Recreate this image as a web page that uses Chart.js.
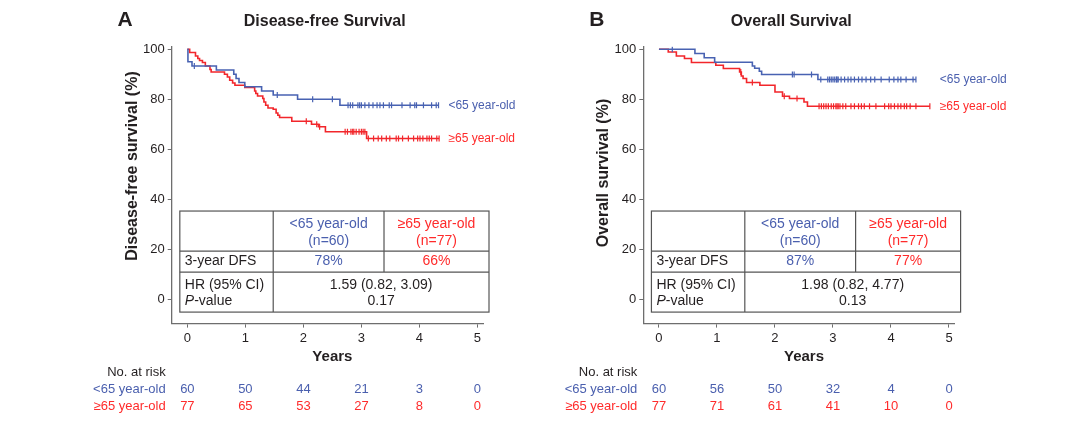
<!DOCTYPE html>
<html><head><meta charset="utf-8">
<script src="https://cdn.jsdelivr.net/npm/chart.js@4.4.1/dist/chart.umd.min.js"></script>
<style>
html,body{margin:0;padding:0;background:#fff;width:1080px;height:425px;overflow:hidden}
canvas{position:absolute;top:0}
#cA{left:0}
#cB{left:540px}
</style></head><body>
<canvas id="cA" width="540" height="425"></canvas>
<canvas id="cB" width="540" height="425"></canvas>
<script>
// ---------- data ----------
const xTicks = [0, 1, 2, 3, 4, 5];
const yTicks = [0, 20, 40, 60, 80, 100];
const groupLabels = ['<65 year-old', '≥65 year-old'];
const groupN = ['(n=60)', '(n=77)'];

// Disease-free survival, <65
const dfsYoungTime = [0, 0.01, 0.08, 0.5, 0.8, 0.84, 0.89, 0.99, 1.28, 1.48, 1.9, 2.63, 4.33];
const dfsYoungSurv = [100, 95, 93.3, 91.7, 90, 88.3, 86.7, 85, 83.3, 81.7, 80, 77.6, 77.6];
const dfsYoungCensor = [0.12, 1.55, 2.16, 2.5, 2.77, 2.81, 2.85, 2.94, 2.97, 3.0, 3.06, 3.13, 3.2, 3.27, 3.32, 3.38, 3.48, 3.52, 3.7, 3.84, 3.92, 3.95, 4.07, 4.21, 4.29, 4.33];
// Disease-free survival, >=65
const dfsOldTime = [0, 0.04, 0.14, 0.18, 0.21, 0.26, 0.31, 0.39, 0.41, 0.64, 0.69, 0.73, 0.78, 0.82, 0.99, 1.16, 1.18, 1.21, 1.3, 1.32, 1.35, 1.39, 1.48, 1.53, 1.56, 1.59, 1.8, 2.14, 2.26, 2.38, 3.09, 4.34];
const dfsOldSurv = [100, 98.7, 97.3, 96.3, 95.5, 94.7, 93.3, 91.9, 90.9, 90, 88.9, 87.6, 86.5, 85.6, 84.7, 83.3, 82.3, 81.3, 80.3, 78.9, 77.6, 76.5, 76, 74.5, 73.6, 72.7, 71.2, 70, 69, 67, 64.3, 64.3];
const dfsOldCensor = [2.05, 2.23, 2.28, 2.72, 2.76, 2.82, 2.85, 2.87, 2.91, 2.96, 3.0, 3.03, 3.06, 3.12, 3.21, 3.29, 3.35, 3.43, 3.49, 3.6, 3.64, 3.71, 3.81, 3.9, 3.97, 4.01, 4.06, 4.13, 4.17, 4.21, 4.3, 4.34];

// Overall survival, <65
const osYoungTime = [0, 0.62, 0.78, 0.96, 1.61, 1.65, 1.73, 1.77, 2.74, 4.43];
const osYoungSurv = [100, 98.3, 96.6, 94.8, 93.3, 92.4, 91.2, 89.9, 87.9, 87.9];
const osYoungCensor = [0.23, 2.3, 2.33, 2.63, 2.79, 2.91, 2.94, 2.97, 3.0, 3.03, 3.06, 3.07, 3.09, 3.14, 3.2, 3.26, 3.31, 3.37, 3.44, 3.5, 3.57, 3.65, 3.72, 3.83, 3.97, 4.05, 4.12, 4.17, 4.26, 4.38, 4.43];
// Overall survival, >=65
const osOldTime = [0, 0.16, 0.3, 0.44, 0.56, 0.98, 1.11, 1.39, 1.42, 1.45, 1.51, 1.74, 2.0, 2.13, 2.25, 2.5, 2.56, 4.67];
const osOldSurv = [100, 98.9, 97.3, 96.3, 94.7, 93.6, 92.3, 90.9, 89.3, 88.3, 86.7, 85.6, 82.9, 81.2, 80.3, 78.9, 77.2, 77.2];
const osOldCensor = [1.41, 1.61, 2.16, 2.38, 2.76, 2.8, 2.84, 2.88, 2.92, 2.97, 3.01, 3.05, 3.07, 3.09, 3.12, 3.17, 3.22, 3.31, 3.37, 3.44, 3.49, 3.54, 3.63, 3.74, 3.89, 3.96, 4.0, 4.06, 4.12, 4.17, 4.23, 4.27, 4.33, 4.43, 4.67];

// Numbers at risk
const dfsRiskYoung = [60, 50, 44, 21, 3, 0];
const dfsRiskOld = [77, 65, 53, 27, 8, 0];
const osRiskYoung = [60, 56, 50, 32, 4, 0];
const osRiskOld = [77, 71, 61, 41, 10, 0];

// Summary tables
const dfsThreeYear = ['78%', '66%'];
const osThreeYear = ['87%', '77%'];
const dfsHR = '1.59 (0.82, 3.09)';
const dfsP = '0.17';
const osHR = '1.98 (0.82, 4.77)';
const osP = '0.13';

// ---------- styling ----------
const FONT = "'Liberation Sans', Arial, Helvetica, sans-serif";
const TXT = '#231f20';
const AXC = '#6e6e6e';
const BLUE_T = '#4a5fae', RED_T = '#ff2b2b';
const BLUE_L = '#4862b2', RED_L = '#f2262b';

function stepAt(times, survs, t) {
  let v = survs[0];
  for (let i = 0; i < times.length; i++) if (times[i] <= t) v = survs[i];
  return v;
}

function txt(ctx, s, x, y, font, color, align) {
  ctx.font = font; ctx.fillStyle = color; ctx.textAlign = align || 'center'; ctx.textBaseline = 'middle';
  ctx.fillText(s, x, y);
}

function makePanel(id, p) {
  const curves = [
    { t: p.youngT, s: p.youngS, c: p.youngC, col: BLUE_L },
    { t: p.oldT, s: p.oldS, c: p.oldC, col: RED_L }
  ];
  const datasets = [];
  curves.forEach(cv => {
    datasets.push({
      type: 'line', data: cv.t.map((x, i) => ({ x: x, y: cv.s[i] })),
      stepped: 'before', borderColor: cv.col, borderWidth: 1.6, pointRadius: 0, fill: false
    });
    datasets.push({
      type: 'line', showLine: false, data: cv.c.map(x => ({ x: x, y: stepAt(cv.t, cv.s, x) })),
      pointStyle: 'line', rotation: 90, pointRadius: 3, borderColor: cv.col, borderWidth: 1.2,
      backgroundColor: cv.col
    });
  });

  const axisCommon = {
    type: 'linear',
    grid: { drawOnChartArea: false, drawTicks: true, tickLength: 4, color: AXC, lineWidth: 1 },
    border: { display: true, color: AXC, width: 1.3 },
    ticks: { color: TXT, font: { family: FONT, size: 13 }, padding: 3, maxRotation: 0, autoSkip: false }
  };

  const overlay = {
    id: 'overlay',
    afterDraw(chart) {
      const ctx = chart.ctx, xs = chart.scales.x, ys = chart.scales.y, ca = chart.chartArea;
      const X = v => xs.getPixelForValue(v), Y = v => ys.getPixelForValue(v);
      ctx.save();
      // panel letter and title
      txt(ctx, p.letter, ca.left - 46.5, 20, 'bold 21px ' + FONT, TXT);
      txt(ctx, p.title, ca.left + p.titleDx, 22, 'bold 16px ' + FONT, TXT);
      // y title
      ctx.save();
      ctx.translate(ca.left - 39.5, p.yTitleY);
      ctx.rotate(-Math.PI / 2);
      txt(ctx, p.yTitle, 0, 0, 'bold 16px ' + FONT, TXT);
      ctx.restore();
      // x title
      txt(ctx, 'Years', X(2.5), 356.5, 'bold 15px ' + FONT, TXT);
      // end labels
      txt(ctx, groupLabels[0], X(p.labelT), Y(p.youngS[p.youngS.length - 1]), '12px ' + FONT, BLUE_T, 'left');
      txt(ctx, groupLabels[1], X(p.labelT), Y(p.oldS[p.oldS.length - 1]), '12px ' + FONT, RED_T, 'left');

      // summary table
      const tx = [-0.13, 1.48, 3.39, 5.2].map(X);
      const ty = [35.3, 19.3, 10.9, -5.1].map(Y);
      ctx.fillStyle = '#fff';
      ctx.fillRect(tx[0], ty[0], tx[3] - tx[0], ty[3] - ty[0]);
      ctx.strokeStyle = '#555'; ctx.lineWidth = 1.2;
      ctx.strokeRect(tx[0], ty[0], tx[3] - tx[0], ty[3] - ty[0]);
      ctx.beginPath();
      ctx.moveTo(tx[0], ty[1]); ctx.lineTo(tx[3], ty[1]);
      ctx.moveTo(tx[0], ty[2]); ctx.lineTo(tx[3], ty[2]);
      ctx.moveTo(tx[1], ty[0]); ctx.lineTo(tx[1], ty[3]);
      ctx.moveTo(tx[2], ty[0]); ctx.lineTo(tx[2], ty[2]);
      ctx.stroke();
      const f14 = '14px ' + FONT;
      const c1 = (tx[1] + tx[2]) / 2, c2 = (tx[2] + tx[3]) / 2, c12 = (tx[1] + tx[3]) / 2;
      txt(ctx, groupLabels[0], c1, ty[0] + 12.8, f14, BLUE_T);
      txt(ctx, groupN[0], c1, ty[0] + 30, f14, BLUE_T);
      txt(ctx, groupLabels[1], c2, ty[0] + 12.8, f14, RED_T);
      txt(ctx, groupN[1], c2, ty[0] + 30, f14, RED_T);
      const rm = (ty[1] + ty[2]) / 2;
      txt(ctx, '3-year DFS', tx[0] + 5, rm, f14, TXT, 'left');
      txt(ctx, p.three[0], c1, rm, f14, BLUE_T);
      txt(ctx, p.three[1], c2, rm, f14, RED_T);
      txt(ctx, 'HR (95% CI)', tx[0] + 5, ty[2] + 13.3, f14, TXT, 'left');
      txt(ctx, 'P', tx[0] + 5, ty[2] + 29, 'italic 14px ' + FONT, TXT, 'left');
      ctx.font = 'italic 14px ' + FONT;
      const pw = ctx.measureText('P').width;
      txt(ctx, '-value', tx[0] + 5 + pw, ty[2] + 29, f14, TXT, 'left');
      txt(ctx, p.hr, c12, ty[2] + 13.3, f14, TXT);
      txt(ctx, p.pv, c12, ty[2] + 29, f14, TXT);

      // numbers at risk
      const f13 = '13px ' + FONT;
      txt(ctx, 'No. at risk', ca.left - 6, 372, f13, TXT, 'right');
      txt(ctx, groupLabels[0], ca.left - 6, 389, f13, BLUE_T, 'right');
      txt(ctx, groupLabels[1], ca.left - 6, 406, f13, RED_T, 'right');
      xTicks.forEach((t, i) => {
        txt(ctx, String(p.riskY[i]), X(t), 389, f13, BLUE_T);
        txt(ctx, String(p.riskO[i]), X(t), 406, f13, RED_T);
      });
      ctx.restore();
    }
  };

  return new Chart(document.getElementById(id), {
    type: 'line',
    data: { datasets: datasets },
    plugins: [overlay],
    options: {
      responsive: false, animation: false, devicePixelRatio: 1,
      layout: { padding: { left: p.padLeft, right: p.padRight, top: 46.7, bottom: 81.4 } },
      plugins: { legend: { display: false }, tooltip: { enabled: false } },
      scales: {
        x: Object.assign({}, axisCommon, {
          min: -0.27, max: 5.1,
          afterBuildTicks: s => { s.ticks = xTicks.map(v => ({ value: v })); },
          afterFit: s => { s.height = 20; }
        }),
        y: Object.assign({}, axisCommon, {
          min: -9.7, max: 101,
          afterBuildTicks: s => { s.ticks = yTicks.map(v => ({ value: v })); },
          afterFit: s => { s.width = 40; }
        })
      }
    }
  });
}

makePanel('cA', {
  letter: 'A', title: 'Disease-free Survival', titleDx: 153, yTitle: 'Disease-free survival (%)', yTitleY: 166,
  youngT: dfsYoungTime, youngS: dfsYoungSurv, youngC: dfsYoungCensor,
  oldT: dfsOldTime, oldS: dfsOldSurv, oldC: dfsOldCensor,
  three: dfsThreeYear, hr: dfsHR, pv: dfsP, riskY: dfsRiskYoung, riskO: dfsRiskOld,
  labelT: 4.5, padLeft: 131.7, padRight: 56.8
});
makePanel('cB', {
  letter: 'B', title: 'Overall Survival', titleDx: 148, yTitle: 'Overall survival (%)', yTitleY: 173,
  youngT: osYoungTime, youngS: osYoungSurv, youngC: osYoungCensor,
  oldT: osOldTime, oldS: osOldSurv, oldC: osOldCensor,
  three: osThreeYear, hr: osHR, pv: osP, riskY: osRiskYoung, riskO: osRiskOld,
  labelT: 4.84, padLeft: 63.3, padRight: 125.2
});
</script>
</body></html>
